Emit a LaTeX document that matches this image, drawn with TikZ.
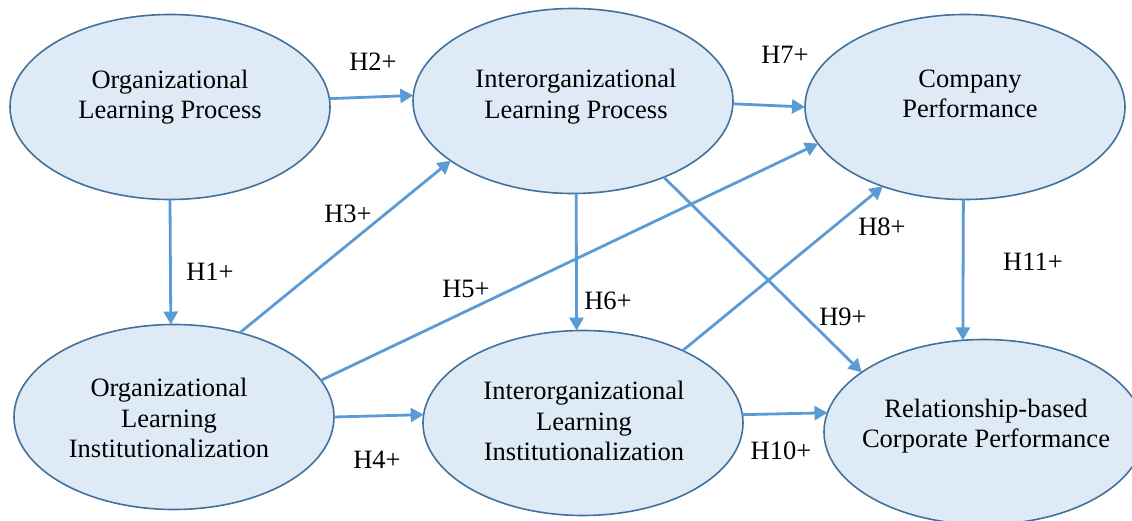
\documentclass[tikz,border=0pt]{standalone}
\usepackage{fontspec}
\setmainfont{Liberation Serif}
\usetikzlibrary{arrows.meta,shapes.geometric}
\definecolor{ellfill}{HTML}{DEEAF6}
\definecolor{elldraw}{HTML}{41719C}
\definecolor{arrblue}{HTML}{5B9BD5}

\begin{document}
\begin{tikzpicture}[x=1pt,y=-1pt,
	every node/.style={font=\fontsize{26.5}{30.5}\selectfont, inner sep=0pt},
	ell/.style={ellipse, draw=elldraw, fill=ellfill, line width=1.6pt, minimum width=320pt, minimum height=185pt, outer sep=0pt},
	txt/.style={align=center},
	hyp/.style={arrblue, line width=2.8pt, -{Triangle[length=13pt,width=14pt]}}]
	\useasboundingbox (0,0) rectangle (1132,521);
	\clip (0,0) rectangle (1132,521);
	% ellipses
	\node[ell] (olp) at (170,107) {};
	\node[ell] (ilp) at (573,101) {};
	\node[ell] (cp)  at (965,107) {};
	\node[ell] (oli) at (174,417) {};
	\node[ell] (ili) at (583,423) {};
	\node[ell] (rcp) at (984,432) {};
	% texts
	\node[txt] (olp-t) at (170,97)  {Organizational\\Learning Process};
	\node[txt] (ilp-t) at (576,96.5) {Interorganizational\\Learning Process};
	\node[txt] (cp-t)  at (970,94)  {Company\\Performance};
	\node[txt] (oli-t) at (169,418) {Organizational\\Learning\\Institutionalization};
	\node[txt] (ili-t) at (584,421) {Interorganizational\\Learning\\Institutionalization};
	\node[txt] (rcp-t) at (986,426) {Relationship-based\\Corporate Performance};
	% hypotheses
	\draw [hyp] (olp.-90) -- (oli.92);	% H1
	\draw [hyp] (olp.3) -- (ilp.178.6);	% H2
	\draw [hyp] (oli.52) -- (ilp.206);	% H3
	\draw [hyp] (oli.0.7) -- (ili.177.2);	% H4
	\draw [hyp] (oli.14.2) -- (cp.194.4);	% H5
	\draw [hyp] (ilp.-88.2) -- (ili.94.3);	% H6
	\draw [hyp] (ilp.-1.8) -- (cp.180);	% H7
	\draw [hyp] (ili.36.9) -- (cp.224.6);	% H8
	\draw [hyp] (ilp.-40.7) -- (rcp.154.8);	% H9
	\draw [hyp] (ili.3.3) -- (rcp.173.8);	% H10
	\draw [hyp] (cp.-91.8) -- (rcp.103.7);	% H11
	% labels
	\node (h1)  at (210,272) {H1+};
	\node (h2)  at (373,62)  {H2+};
	\node (h3)  at (348,214) {H3+};
	\node (h4)  at (377,460) {H4+};
	\node (h5)  at (466,289) {H5+};
	\node (h6)  at (608,301) {H6+};
	\node (h7)  at (785,55)  {H7+};
	\node (h8)  at (882,227) {H8+};
	\node (h9)  at (843,317) {H9+};
	\node (h10) at (781,451) {H10+};
	\node (h11) at (1033,262) {H11+};
\end{tikzpicture}
\end{document}
